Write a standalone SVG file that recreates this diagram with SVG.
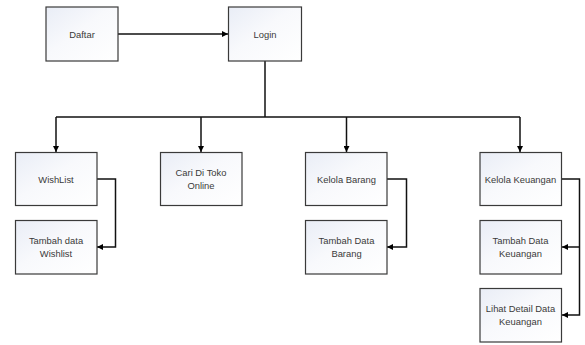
<svg xmlns="http://www.w3.org/2000/svg" width="585" height="345" viewBox="0 0 585 345">
<defs>
<linearGradient id="g" x1="0" y1="0" x2="1" y2="1">
<stop offset="0" stop-color="#e9edf6"/>
<stop offset="0.45" stop-color="#f8f9fc"/>
<stop offset="1" stop-color="#ffffff"/>
</linearGradient>
<marker id="a" viewBox="0 0 10 10" refX="10" refY="5" markerWidth="6" markerHeight="6" markerUnits="userSpaceOnUse" orient="auto">
<path d="M0,0 L10,5 L0,10 z" fill="#000"/>
</marker>
</defs>
<style>
.b{fill:url(#g);stroke:#3a3a3a;stroke-width:1.2}
.t{font-family:"Liberation Sans",Arial,sans-serif;font-size:9.4px;fill:#3a3a3a;text-anchor:middle}
.c{fill:none;stroke:#111;stroke-width:1.5}
</style>
<rect width="585" height="345" fill="#fff"/>
<g id="connectors">
<path class="c" d="M118,34 H228" marker-end="url(#a)"/>
<path class="c" d="M265,61 V117"/>
<path class="c" d="M56,117 H520"/>
<path class="c" d="M56,117 V152" marker-end="url(#a)"/>
<path class="c" d="M201,117 V152" marker-end="url(#a)"/>
<path class="c" d="M346.5,117 V152" marker-end="url(#a)"/>
<path class="c" d="M520,117 V152" marker-end="url(#a)"/>
<path class="c" d="M97,179 H115.5 V247 H97" marker-end="url(#a)"/>
<path class="c" d="M387,179 H406.5 V247 H387" marker-end="url(#a)"/>
<path class="c" d="M562,179 H579.5 V315 H562" marker-end="url(#a)"/>
<path class="c" d="M579.5,247 H562" marker-end="url(#a)"/>
</g>
<g id="daftar"><rect class="b" x="46" y="7" width="72" height="54"/><text class="t" x="82" y="37.5">Daftar</text></g>
<g id="login"><rect class="b" x="228.5" y="7" width="73" height="54"/><text class="t" x="265" y="37.5">Login</text></g>
<g id="wishlist"><rect class="b" x="15.5" y="152.5" width="81.5" height="53"/><text class="t" x="56" y="182.5">WishList</text></g>
<g id="cari"><rect class="b" x="160.5" y="152.5" width="81.5" height="53"/><text class="t" x="201" y="176">Cari Di Toko</text><text class="t" x="201" y="188.5">Online</text></g>
<g id="kelola-barang"><rect class="b" x="305.5" y="152.5" width="81.5" height="53"/><text class="t" x="346.5" y="182.5">Kelola Barang</text></g>
<g id="kelola-keuangan"><rect class="b" x="480" y="152.5" width="81.5" height="53"/><text class="t" x="520.5" y="182.5">Kelola Keuangan</text></g>
<g id="tambah-wishlist"><rect class="b" x="15.5" y="220.5" width="81.5" height="53.5"/><text class="t" x="56" y="244">Tambah data</text><text class="t" x="56" y="256.5">Wishlist</text></g>
<g id="tambah-barang"><rect class="b" x="305.5" y="220.5" width="81.5" height="53.5"/><text class="t" x="346.5" y="244">Tambah Data</text><text class="t" x="346.5" y="256.5">Barang</text></g>
<g id="tambah-keuangan"><rect class="b" x="480" y="220.5" width="81.5" height="53.5"/><text class="t" x="520.5" y="244">Tambah Data</text><text class="t" x="520.5" y="256.5">Keuangan</text></g>
<g id="lihat-detail"><rect class="b" x="480" y="288.5" width="81.5" height="53.5"/><text class="t" x="520.5" y="312">Lihat Detail Data</text><text class="t" x="520.5" y="324.5">Keuangan</text></g>
</svg>
